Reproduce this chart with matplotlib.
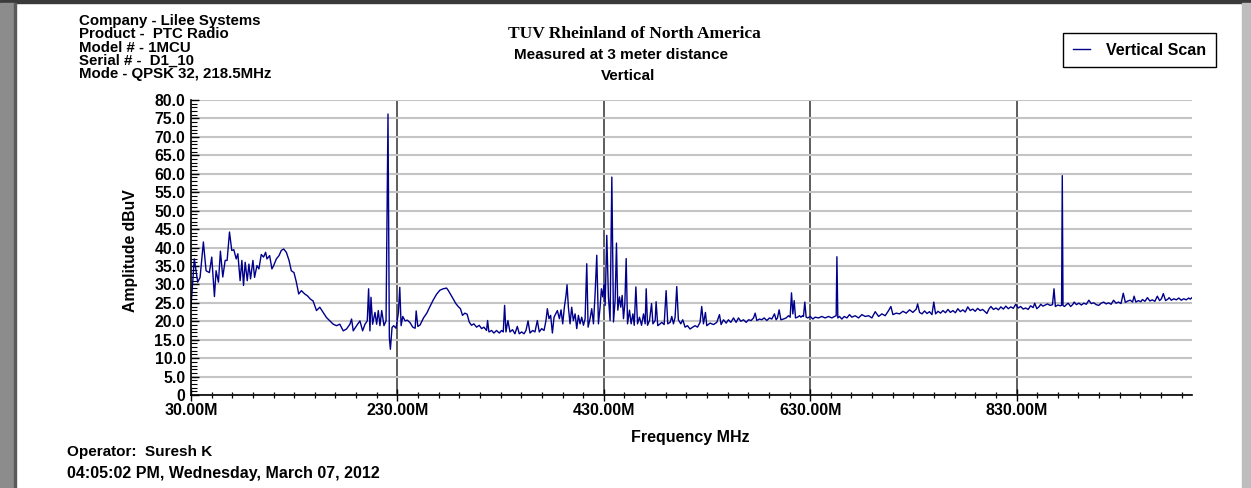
import numpy as np
import matplotlib.pyplot as plt
from matplotlib.patches import Rectangle
from matplotlib.ticker import FixedLocator, MultipleLocator

W, H = 1251, 488

# spectrum (MHz, dBuV)
freq_mhz = [
    30.0, 33.2, 36.5, 38.8, 42.0, 44.6, 47.8, 50.1, 52.7, 54.3, 56.6, 58.5, 60.8, 63.1, 65.0,
    67.3, 69.5, 71.5, 73.8, 75.4, 77.6, 79.3, 80.9, 82.5, 84.5, 86.1, 87.7, 90.0, 91.6, 93.9,
    95.8, 98.1, 100.3, 102.3, 103.6, 106.2, 108.4, 110.1, 112.7, 115.3, 117.5, 119.8, 122.4, 125.0, 127.2,
    129.8, 132.1, 134.4, 137.0, 140.2, 142.8, 145.7, 148.3, 151.6, 154.8, 158.0, 161.3, 164.5, 167.8, 171.0,
    174.2, 177.5, 180.7, 184.0, 185.6, 187.2, 190.5, 193.7, 196.3, 198.6, 200.8, 202.1, 203.4, 204.4, 206.0,
    208.3, 209.9, 211.5, 213.1, 214.8, 217.0, 219.0, 220.9, 222.2, 223.2, 224.8, 226.4, 228.7, 231.0, 232.3,
    233.6, 235.2, 237.5, 239.7, 242.3, 244.9, 247.2, 248.2, 249.8, 252.0, 255.3, 258.5,
    261.4, 264.6, 267.9, 271.1, 274.3, 277.6, 279.2, 281.5, 284.0, 286.6, 288.9, 291.1, 293.1, 295.4, 297.6,
    299.6, 301.8, 304.1, 306.7, 309.3, 311.6, 313.8, 316.4, 317.4, 318.7, 321.3, 323.5, 326.1, 328.7, 331.0,
    332.6, 333.9, 335.2, 337.1, 339.1, 341.6, 343.9, 346.2, 348.1, 350.4, 352.7, 354.6, 356.6, 358.5, 361.1,
    363.3, 365.6, 367.5, 369.8, 372.1, 374.0, 375.3, 376.9, 378.5, 380.2, 381.8, 383.4, 385.0, 387.0, 388.6,
    390.2, 391.8, 393.4, 394.4, 395.7, 397.3, 398.9, 400.5, 402.2, 403.8, 405.4, 407.0, 408.6, 410.3, 411.9,
    413.5, 414.8, 416.7, 418.3, 420.0, 421.6, 423.2, 424.8, 426.4, 427.7, 429.0, 430.3, 431.3, 432.9, 434.5,
    436.1, 437.8, 439.4, 441.0, 442.3, 443.6, 445.2, 446.5, 447.8, 449.1, 450.4, 451.7, 453.0, 454.9, 456.5,
    458.2, 459.5, 461.1, 462.7, 464.6, 466.6, 468.5, 470.1, 471.1, 472.4, 474.3, 476.3, 477.6, 479.8, 480.7,
    482.3, 484.6,
    486.2, 488.5, 490.4, 492.0, 494.3, 495.9, 497.5, 499.1, 500.7, 502.3, 504.6, 506.5, 508.8, 511.1, 513.6,
    516.2, 518.5, 520.8, 523.3, 524.9, 526.6, 528.5, 529.8, 533.0, 536.3, 539.5, 542.1, 543.7, 546.0, 548.6,
    550.8, 553.1, 555.7, 558.2, 560.5, 562.8, 565.4, 568.0, 570.2, 572.8, 575.1, 576.7, 578.3, 580.9, 583.1,
    585.4, 588.0, 590.6, 592.8, 595.4, 597.0, 598.3, 599.9, 601.6, 604.1, 606.7, 609.0, 610.6, 611.9, 613.2,
    614.5, 615.8, 617.7, 619.7, 621.0, 622.6, 623.5, 624.8, 626.1, 627.7, 630.0, 632.6, 634.8, 638.1, 641.3,
    644.5, 647.8, 651.0, 653.6, 655.2, 655.9, 656.8, 658.4, 660.7, 663.0, 665.6, 668.1, 670.4, 673.6, 676.9,
    680.1, 683.3, 686.6, 689.8, 693.0, 696.3, 699.5, 702.7, 706.0, 708.2, 710.2, 713.4, 716.6, 719.9, 723.1,
    726.3, 729.5, 732.8, 734.1, 736.0,
    738.4, 740.8, 743.2, 745.6, 748.0, 749.8, 751.5, 753.9, 756.3, 758.7, 761.1, 763.5, 765.9, 768.3, 770.7,
    773.1, 775.5, 777.9, 780.3, 782.7, 785.1, 787.5, 789.9, 792.3, 794.7, 797.1, 799.5, 801.2, 803.4, 805.2,
    807.6, 810.0, 812.4, 814.8, 817.2, 819.6, 822.0, 824.4, 826.8, 829.2, 831.6, 834.0, 836.4, 838.8, 841.2,
    843.6, 846.0, 847.6, 849.6, 852.0, 853.4, 855.6, 857.8, 860.0, 862.4, 864.8, 866.3, 867.6, 870.0, 872.4,
    873.6, 874.3, 875.0, 876.4, 878.6, 880.0, 882.4, 884.6, 885.8, 888.0, 890.4, 892.8, 895.2, 897.6, 900.0,
    902.4, 904.8, 907.2, 909.6, 912.0, 914.4, 916.8, 919.2, 921.6, 924.0, 926.4, 928.8, 931.2, 933.4, 935.4,
    937.8, 940.2, 942.4, 943.9, 945.6, 948.0, 950.4, 952.0, 954.4, 956.8, 959.2, 961.6, 964.0, 966.4, 968.6,
    970.4, 972.2, 974.4, 976.6, 977.8, 980.0, 982.4, 984.8, 987.2, 989.6, 992.0, 994.4, 996.8, 998.4, 1000.0,
]
amp_dbuv = [
    24.0, 36.9, 30.6, 31.9, 41.5, 33.7, 33.2, 37.4, 26.7, 33.7, 30.6, 39.0, 32.0, 36.5, 36.5,
    44.2, 39.2, 39.4, 36.9, 38.3, 31.0, 36.5, 29.7, 36.0, 31.0, 35.5, 31.5, 36.5, 31.9, 35.1,
    34.2, 38.1, 37.4, 38.7, 36.9, 37.8, 34.2, 35.1, 36.9, 37.8, 39.2, 39.6, 38.7, 36.5, 33.7,
    33.2, 30.6, 27.4, 28.3, 27.4, 26.9, 26.0, 25.5, 22.9, 23.8, 22.4, 21.0, 20.1, 19.2, 18.8,
    19.2, 17.4, 17.9, 19.2, 20.6, 17.4, 18.8, 20.1, 17.4, 19.2, 20.1, 28.8, 17.4, 26.5, 19.2,
    22.4, 19.2, 22.9, 18.8, 22.9, 18.8, 20.1, 76.2, 15.6, 12.4, 18.3, 18.8, 18.1, 22.4, 29.2,
    18.8, 21.3, 20.1, 20.3, 19.6, 18.4, 18.1, 22.8, 18.6, 19.0, 20.9, 22.2,
    23.9, 25.7, 27.3, 28.4, 28.8, 29.0, 28.4, 27.3, 26.1, 24.8, 24.0, 23.4, 21.6, 22.2, 21.9,
    19.8, 18.9, 19.3, 18.4, 18.9, 18.0, 18.4, 17.5, 20.2, 17.1, 17.5, 16.8, 17.5, 16.8, 17.5,
    17.1, 24.3, 17.1, 20.2, 17.1, 17.7, 16.6, 18.6, 16.6, 17.1, 16.6, 17.5, 20.1, 16.8, 17.5,
    17.1, 20.2, 17.1, 18.0, 17.5, 20.2, 23.4, 20.7, 21.6, 16.8, 21.1, 22.0, 22.9, 20.7, 23.1,
    19.3, 23.8, 27.0, 29.9, 23.8, 19.3, 23.8, 20.2, 22.0, 18.0, 21.6, 19.3, 21.1, 18.9, 20.7,
    35.6, 18.4, 20.7, 23.4, 19.3, 27.5, 37.9, 19.3, 23.8, 28.8, 26.6, 30.2, 24.3, 43.3, 26.6,
    20.2, 59.1, 19.8, 25.7, 41.2, 23.0, 26.6, 23.8, 27.0, 20.7, 24.8, 37.0, 19.3, 23.0, 19.3,
    22.0, 18.9, 29.3, 19.3, 21.1, 18.9, 22.0, 19.3, 28.8, 18.9, 20.2, 24.8, 19.3, 20.2, 25.3,
    18.8, 19.3,
    19.7, 19.1, 28.3, 19.3, 19.7, 21.3, 19.3, 21.1, 29.4, 20.4, 19.3, 20.4, 18.4, 18.8, 17.9,
    18.4, 18.8, 18.4, 19.7, 24.0, 19.3, 22.4, 18.8, 19.5, 19.1, 19.7, 21.8, 19.1, 20.4, 19.5,
    20.4, 19.7, 20.9, 19.7, 20.9, 20.0, 20.4, 19.7, 20.4, 20.2, 20.9, 22.2, 20.2, 20.6, 20.4,
    20.9, 20.2, 20.9, 20.6, 22.0, 20.4, 20.9, 23.1, 20.4, 20.6, 20.9, 21.5, 21.1, 27.7, 22.0,
    25.6, 20.9, 21.1, 21.5, 21.1, 21.5, 21.3, 25.2, 21.1, 20.9, 21.3, 20.6, 21.1, 20.9, 21.3,
    20.9, 21.3, 20.9, 21.3, 21.5, 37.5, 20.9, 21.3, 20.6, 21.3, 20.9, 21.8, 21.1, 21.5, 20.9,
    21.8, 21.3, 21.5, 20.9, 22.6, 21.3, 22.0, 21.5, 22.9, 24.0, 21.8, 22.2, 22.0, 22.7, 22.2,
    23.1, 22.4, 23.3, 24.7, 22.4,
    22.0, 22.8, 22.1, 22.6, 21.8, 25.2, 22.0, 22.7, 22.2, 22.9, 22.3, 23.2, 22.4, 22.9, 22.3,
    23.4, 22.6, 23.1, 22.5, 23.9, 22.9, 23.3, 22.7, 23.5, 22.9, 23.2, 22.6, 22.1, 23.4, 24.0,
    23.2, 23.6, 23.1, 23.9, 23.3, 24.1, 23.4, 23.9, 23.5, 24.6, 23.6, 24.0, 23.3, 23.6, 23.2,
    24.2, 23.7, 24.9, 23.4, 24.0, 24.6, 24.1, 24.4, 24.7, 24.3, 24.5, 28.8, 24.0, 24.4, 24.2,
    24.3, 59.5, 24.3, 24.0, 24.6, 24.9, 24.0, 24.6, 25.2, 24.5, 24.9, 24.4, 24.9, 24.6, 25.7,
    24.8, 25.0, 24.5, 24.3, 24.9, 25.2, 24.7, 25.0, 24.6, 25.7, 24.9, 25.2, 24.8, 27.6, 25.1,
    25.5, 25.7, 25.2, 26.8, 25.2, 25.6, 25.3, 25.9, 25.4, 26.4, 25.5, 25.8, 25.4, 26.8, 25.6,
    26.1, 27.5, 25.6, 26.0, 26.4, 25.7, 26.1, 25.8, 26.3, 25.7, 26.1, 25.8, 26.3, 26.0, 26.4,
]

x_major = [30, 230, 430, 630, 830]
x_major_labels = ["30.00M", "230.00M", "430.00M", "630.00M", "830.00M"]
x_minor = list(range(30, 1001, 20))
y_major = list(range(0, 81, 5))
y_major_labels = ["0"] + [f"{v:.1f}" for v in y_major[1:]]

header_lines = [
    "Company - Lilee Systems",
    "Product -  PTC Radio",
    "Model # - 1MCU",
    "Serial # -  D1_10",
    "Mode - QPSK 32, 218.5MHz",
]
header_baselines = [25, 38.3, 51.6, 64.9, 78.2]

LINE_COLOR = "#00008b"

plt.rcParams["font.family"] = ["Liberation Sans", "DejaVu Sans"]
plt.rcParams["font.weight"] = "bold"


def fx(x):
    return x / W


def fy(y):
    return 1 - y / H


fig = plt.figure(figsize=(W / 100, H / 100), dpi=100)
fig.patch.set_facecolor("white")

# window frame around the report
fig.patches.append(Rectangle((0, fy(3)), 1, 3 / H, transform=fig.transFigure,
                             color="#3a3a3a", zorder=0))
fig.patches.append(Rectangle((0, 0), fx(14), fy(3), transform=fig.transFigure,
                             color="#8c8c8c", zorder=0))
fig.patches.append(Rectangle((fx(14), 0), fx(2), fy(3), transform=fig.transFigure,
                             color="#5a5a5a", zorder=0))
fig.patches.append(Rectangle((fx(1242), 0), fx(9), fy(3), transform=fig.transFigure,
                             color="#bdbdbd", zorder=0))

ax = fig.add_axes([fx(191), fy(395), 1001 / W, 295 / H])
ax.plot(freq_mhz, amp_dbuv, color=LINE_COLOR, lw=1.0, label="Vertical Scan", zorder=3)

ax.set_xlim(30, 1000)
ax.set_ylim(0, 80)

ax.xaxis.set_major_locator(FixedLocator(x_major))
ax.set_xticklabels(x_major_labels)
ax.xaxis.set_minor_locator(FixedLocator(x_minor))
ax.yaxis.set_major_locator(FixedLocator(y_major))
ax.set_yticklabels(y_major_labels)
ax.yaxis.set_minor_locator(MultipleLocator(1))

ax.tick_params(axis="x", which="major", direction="inout", length=8, width=1,
               labelsize=11.5, pad=1.5)
ax.tick_params(axis="x", which="minor", direction="inout", length=5, width=0.9)
ax.tick_params(axis="y", which="major", direction="in", length=6, width=1,
               labelsize=11.3, pad=4)
ax.tick_params(axis="y", which="minor", direction="in", length=4, width=0.8)

# grid: light horizontal lines, dark vertical lines at the major frequencies
ax.yaxis.grid(True, color="#c4c4c4", lw=1.5, zorder=0)
for f in x_major[1:]:
    ax.axvline(f, color="#505050", lw=1.3, zorder=1)

for side in ("top", "right"):
    ax.spines[side].set_visible(False)
for side in ("left", "bottom"):
    ax.spines[side].set_linewidth(1.2)
    ax.spines[side].set_zorder(4)

# header block
for line, base in zip(header_lines, header_baselines):
    fig.text(fx(79), fy(base), line, fontsize=10.8, va="baseline", ha="left")

fig.text(fx(634), fy(38.5), "TUV Rheinland of North America", family="Liberation Serif",
         fontsize=12.5, va="baseline", ha="center")
fig.text(fx(621), fy(59.3), "Measured at 3 meter distance", fontsize=11,
         va="baseline", ha="center")
fig.text(fx(628), fy(80), "Vertical", fontsize=11, va="baseline", ha="center")

fig.text(fx(130), fy(251), "Amplitude dBuV", fontsize=11.3, rotation=90,
         ha="center", va="center")
fig.text(fx(690), fy(442), "Frequency MHz", fontsize=11.5, va="baseline", ha="center")

fig.text(fx(67), fy(455.7), "Operator:  Suresh K", fontsize=11, va="baseline", ha="left")
fig.text(fx(67), fy(478.3), "04:05:02 PM, Wednesday, March 07, 2012", fontsize=11.5,
         va="baseline", ha="left")

leg = fig.legend(loc="upper right", bbox_to_anchor=(fx(1224), fy(25)), fontsize=11.5,
                 handlelength=1.1, handletextpad=1.0, borderpad=0.6,
                 fancybox=False, framealpha=1, edgecolor="black")
leg.get_frame().set_linewidth(1.0)

fig.savefig("out.png", dpi=100)
